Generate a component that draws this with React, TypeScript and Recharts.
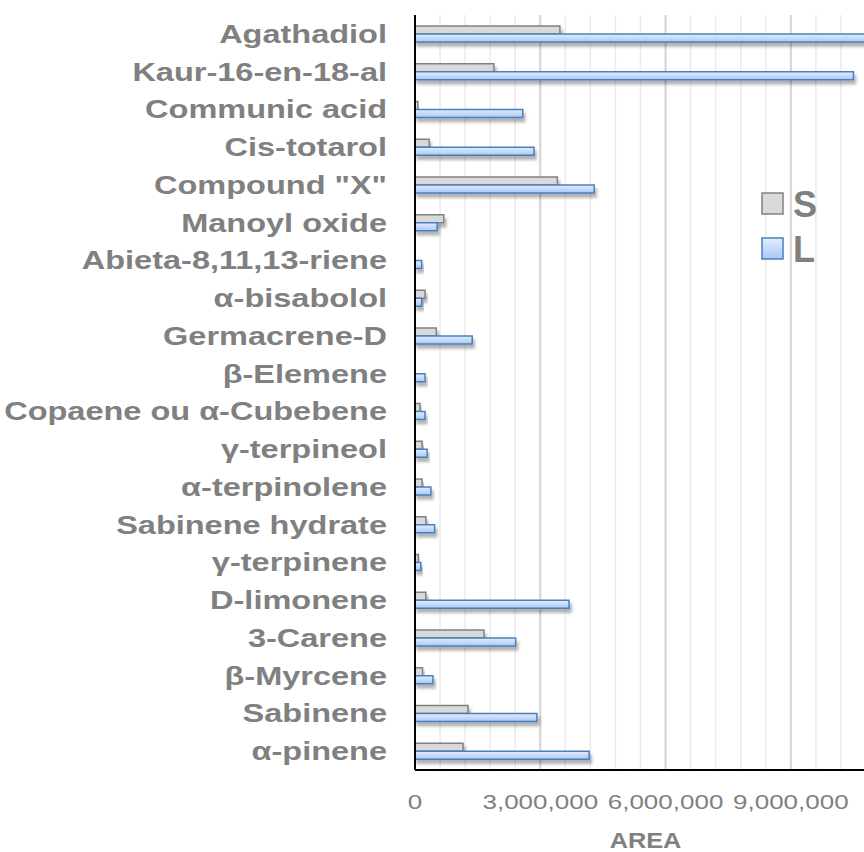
import React from "react";
import { BarChart, Bar, XAxis, YAxis, CartesianGrid, Legend, Label } from "recharts";

const compounds = [
  "Agathadiol",
  "Kaur-16-en-18-al",
  "Communic acid",
  "Cis-totarol",
  'Compound "X"',
  "Manoyl oxide",
  "Abieta-8,11,13-riene",
  "α-bisabolol",
  "Germacrene-D",
  "β-Elemene",
  "Copaene ou α-Cubebene",
  "γ-terpineol",
  "α-terpinolene",
  "Sabinene hydrate",
  "γ-terpinene",
  "D-limonene",
  "3-Carene",
  "β-Myrcene",
  "Sabinene",
  "α-pinene",
];

const seriesS = [
  3470000, 1890000, 70000, 340000, 3410000, 690000, 0, 240000, 510000, 0,
  120000, 170000, 170000, 260000, 80000, 260000, 1650000, 180000, 1270000, 1150000,
];

const seriesL = [
  11200000, 10500000, 2580000, 2850000, 4290000, 530000, 160000, 160000, 1370000, 240000,
  240000, 290000, 380000, 470000, 140000, 3690000, 2410000, 430000, 2920000, 4170000,
];

const xTicks = [0, 3000000, 6000000, 9000000];
const minorTicks = [
  600000, 1200000, 1800000, 2400000, 3000000, 3600000, 4200000, 4800000, 5400000, 6000000,
  6600000, 7200000, 7800000, 8400000, 9000000, 9600000, 10200000,
];

const data = compounds.map((name, i) => ({ name, S: seriesS[i], L: seriesL[i] }));

const GREY_TEXT = "#808080";
const FONT = "'Liberation Sans', Arial, sans-serif";

const YTick = (props: any) => {
  const { x, y, payload } = props;
  return (
    <text
      transform={`translate(${x},${y}) scale(1.3,1)`}
      textAnchor="end"
      dy="0.36em"
      fill={GREY_TEXT}
      fontSize={25}
      fontWeight="bold"
      fontFamily={FONT}
    >
      {payload.value}
    </text>
  );
};

const XTick = (props: any) => {
  const { x, y, payload } = props;
  return (
    <text
      transform={`translate(${x},${y}) scale(1.3,1)`}
      textAnchor="middle"
      dy="0.71em"
      fill={GREY_TEXT}
      fontSize={20}
      fontFamily={FONT}
    >
      {Number(payload.value).toLocaleString("en-US")}
    </text>
  );
};

const BarShape = (props: any) => {
  const { x, y, width, height, fill, stroke } = props;
  if (!width || width <= 0) return <g />;
  return (
    <rect
      x={x}
      y={y}
      width={width}
      height={height}
      fill={fill}
      stroke={stroke}
      strokeWidth={1.5}
      filter="url(#barShadow)"
    />
  );
};

const LegendBox = () => {
  const items = [
    { label: "S", fill: "#d9d9d9", stroke: "#808080" },
    { label: "L", fill: "url(#legendBlue)", stroke: "#4a7ebb" },
  ];
  return (
    <svg width={70} height={100}>
      <defs>
        <linearGradient id="legendBlue" x1="0" y1="0" x2="0" y2="1">
          <stop offset="0%" stopColor="#e3eeff" />
          <stop offset="100%" stopColor="#a9c7f5" />
        </linearGradient>
      </defs>
      {items.map((it, i) => (
        <g key={it.label} transform={`translate(0, ${i * 45})`}>
          <rect x={2} y={9} width={21} height={21} fill={it.fill} stroke={it.stroke} strokeWidth={1.5} />
          <text x={33} y={33} fill={GREY_TEXT} fontSize={36} fontWeight="bold" fontFamily={FONT}>
            {it.label}
          </text>
        </g>
      ))}
    </svg>
  );
};

const AreaLabel = (props: any) => {
  const { viewBox } = props;
  const cx = viewBox.x + viewBox.width / 2 + 5;
  return (
    <text
      transform={`translate(${cx},${viewBox.y + viewBox.height - 4}) scale(1.15,1)`}
      textAnchor="middle"
      fill={GREY_TEXT}
      fontSize={22}
      fontWeight="bold"
      fontFamily={FONT}
    >
      AREA
    </text>
  );
};

export default function App() {
  return (
    <div style={{ position: "absolute", left: 0, top: 0, width: 864, height: 852, overflow: "hidden", background: "#fff" }}>
      <BarChart
        width={866}
        height={852}
        data={data}
        layout="vertical"
        margin={{ top: 15, right: 0, bottom: 0, left: 0 }}
        barSize={8}
        barGap={0}
      >
        <defs>
          <linearGradient id="blueFill" x1="0" y1="0" x2="0" y2="1">
            <stop offset="0%" stopColor="#e3eeff" />
            <stop offset="100%" stopColor="#a9c7f5" />
          </linearGradient>
          <filter id="barShadow" x="-10%" y="-50%" width="130%" height="250%">
            <feDropShadow dx="2" dy="4" stdDeviation="1.5" floodColor="#000" floodOpacity="0.3" />
          </filter>
        </defs>
        <CartesianGrid horizontal={false} verticalValues={minorTicks} stroke="#ebebeb" strokeWidth={1.5} />
        <CartesianGrid horizontal={false} verticalValues={xTicks.slice(1)} stroke="#d4d4d4" strokeWidth={2} />
        <XAxis
          type="number"
          domain={[0, 10800000]}
          allowDataOverflow
          ticks={xTicks}
          height={82}
          tickLine={false}
          tickSize={0}
          tickMargin={25}
          axisLine={{ stroke: "#000", strokeWidth: 2 }}
          tick={<XTick />}
          interval={0}
        >
          <Label content={<AreaLabel />} />
        </XAxis>
        <XAxis
          xAxisId="top"
          orientation="top"
          type="number"
          domain={[0, 10800000]}
          height={0}
          tick={false}
          tickLine={false}
          axisLine={{ stroke: "#000", strokeWidth: 2 }}
        />
        <YAxis
          type="category"
          dataKey="name"
          width={415}
          tickLine={false}
          tickSize={0}
          tickMargin={28}
          interval={0}
          axisLine={{ stroke: "#000", strokeWidth: 2 }}
          tick={<YTick />}
        />
        <Legend
          layout="vertical"
          verticalAlign="middle"
          align="center"
          content={<LegendBox />}
          wrapperStyle={{ position: "absolute", left: 760, top: 184, width: 70 }}
        />
        <Bar dataKey="S" fill="#d9d9d9" stroke="#808080" shape={<BarShape />} isAnimationActive={false} />
        <Bar dataKey="L" fill="url(#blueFill)" stroke="#4a7ebb" shape={<BarShape />} isAnimationActive={false} />
      </BarChart>
    </div>
  );
}
